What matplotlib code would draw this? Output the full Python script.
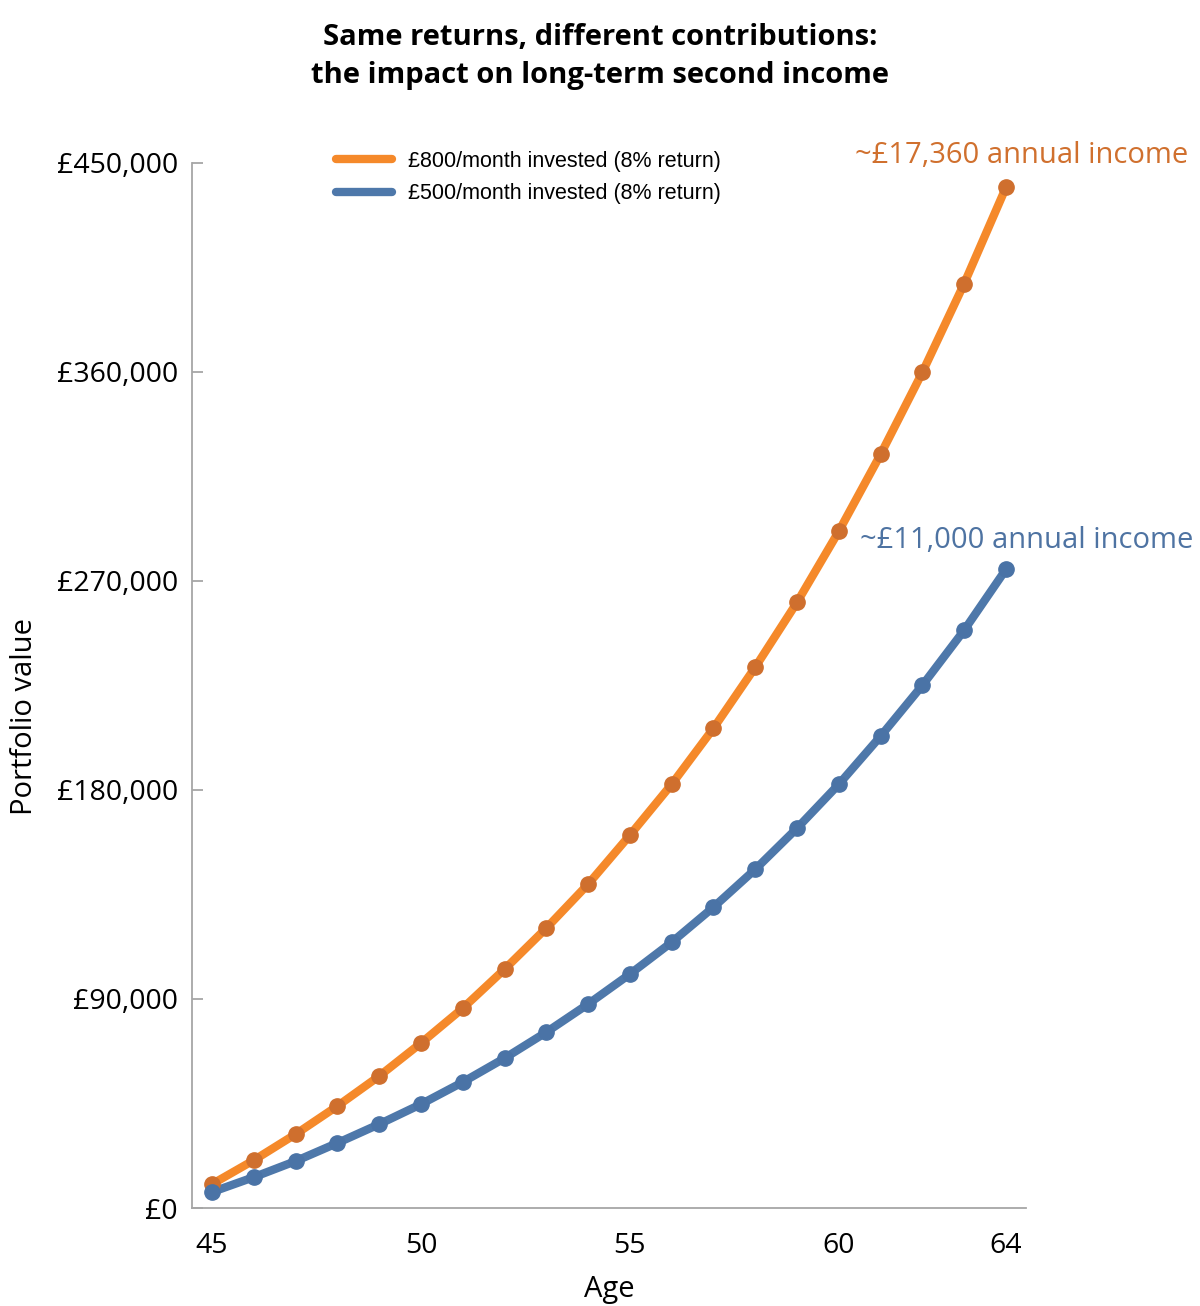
import matplotlib
matplotlib.use("Agg")
import matplotlib.pyplot as plt
from matplotlib.ticker import FuncFormatter

ages = list(range(45, 65))
val_800 = [10300, 20600, 31800, 43900, 56800, 71000, 86000, 102800, 120500, 139400,
           160500, 182400, 206500, 232800, 260700, 291300, 324400, 359700, 397900, 439300]
val_500 = [6900, 13300, 20200, 28000, 36100, 44700, 54200, 64500, 75700, 87800,
           100700, 114400, 129500, 145800, 163500, 182400, 203100, 225000, 248700, 274900]
yticks = [0, 90000, 180000, 270000, 360000, 450000]
xticks = [45, 50, 55, 60, 64]
label_800 = "£800/month invested (8% return)"
label_500 = "£500/month invested (8% return)"
note_800 = "~£17,360 annual income"
note_500 = "~£11,000 annual income"
title = "Same returns, different contributions:\nthe impact on long-term second income"

ORANGE = "#F5892A"
ORANGE_M = "#CF6F2E"
BLUE = "#4E78AA"
BLUE_M = "#4A73A6"

fig = plt.figure(figsize=(12, 13.06), dpi=100)
ax = fig.add_axes([0.16, 0.075, 0.695, 0.8005])

ax.plot(ages, val_800, color=ORANGE, lw=6, solid_capstyle="round", label=label_800, zorder=3)
ax.plot(ages, val_800, ls="none", marker="o", ms=11, color=ORANGE_M, zorder=4)
ax.plot(ages, val_500, color=BLUE, lw=6, solid_capstyle="round", label=label_500, zorder=3)
ax.plot(ages, val_500, ls="none", marker="o", ms=11, color=BLUE_M, zorder=4)

ax.set_xlim(44.52, 64.48)
ax.set_ylim(0, 450000)
ax.set_yticks(yticks)
ax.set_xticks(xticks)
ax.yaxis.set_major_formatter(FuncFormatter(lambda v, p: f"£{int(v):,}"))

for s in ["top", "right"]:
    ax.spines[s].set_visible(False)
for s in ["left", "bottom"]:
    ax.spines[s].set_color("#A6A6A6")
    ax.spines[s].set_linewidth(1.3)
ax.tick_params(axis="y", direction="in", length=8, color="#A6A6A6", width=1.3,
               labelsize=20.5, pad=10)
ax.tick_params(axis="x", length=0, labelsize=20.5, pad=17)
for lab in ax.get_xticklabels() + ax.get_yticklabels():
    lab.set_fontfamily("Open Sans")

ax.set_ylabel("Portfolio value", fontsize=21, family="Open Sans")
ax.yaxis.set_label_coords(-0.183, 0.47)
ax.set_xlabel("Age", fontsize=21, family="Open Sans", labelpad=11)

leg = ax.legend(loc="upper left", bbox_to_anchor=(0.15, 1.03), frameon=False,
                prop={"family": "Liberation Sans", "size": 15.5}, handlelength=2.6,
                handletextpad=0.7, labelspacing=0.55)

ax.text(0.995, 1.007, note_800, transform=ax.transAxes, fontsize=21, family="Open Sans",
        color="#D0702E", ha="center", va="center")
ax.text(64.5, 287200, note_500, fontsize=21, family="Open Sans",
        color="#4E73A2", ha="center", va="center")

fig.text(0.5, 0.9565, title, ha="center", va="center", fontsize=21, fontweight="bold",
         family="Open Sans", linespacing=1.42)

fig.savefig("out.png", dpi=100)
